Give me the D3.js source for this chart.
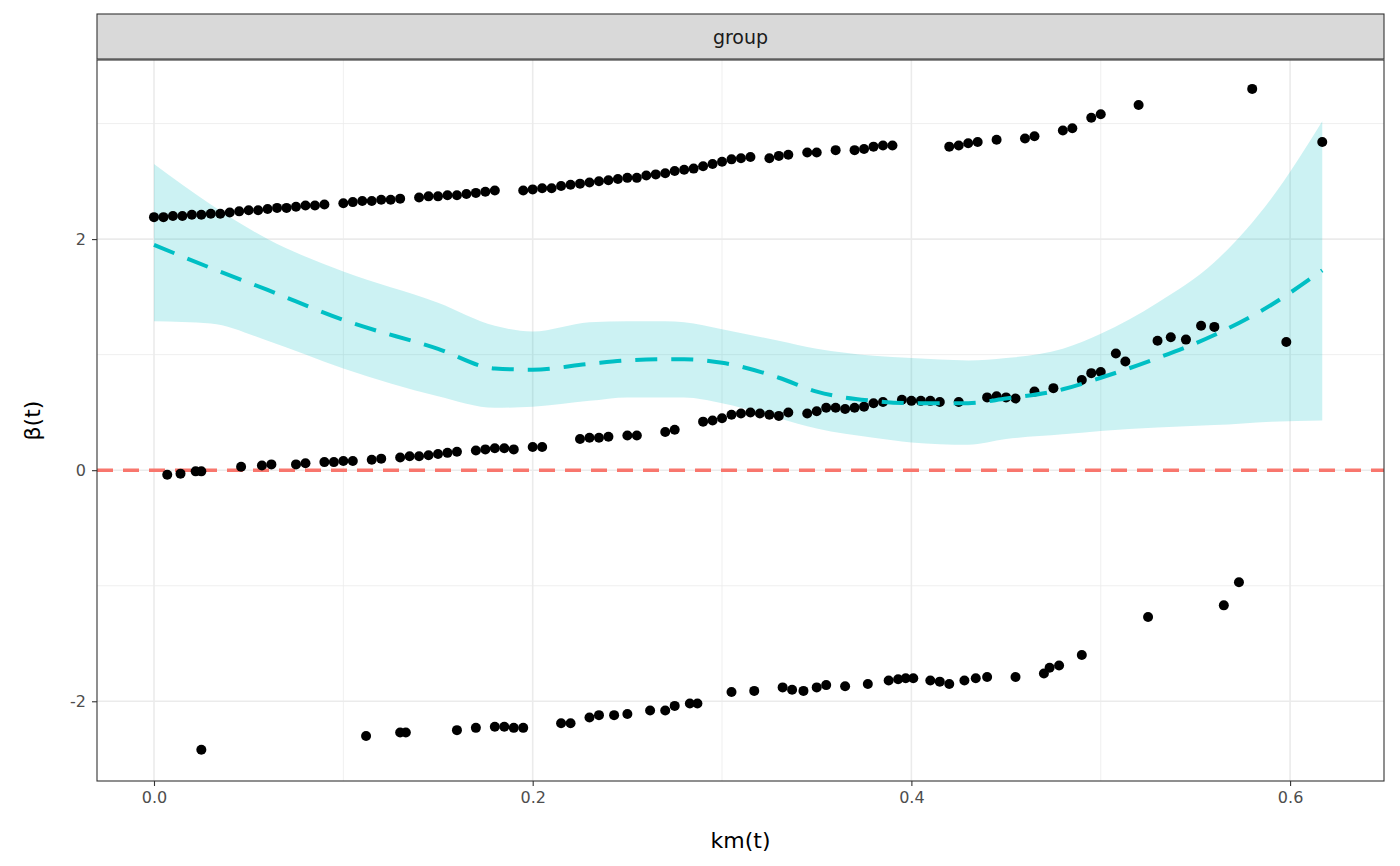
<!DOCTYPE html>
<html><head><meta charset="utf-8">
<script src="https://cdn.jsdelivr.net/npm/d3@7"></script>
<style>body{margin:0;background:#fff;font-family:"DejaVu Sans",sans-serif}</style>
</head><body><svg id="chart" width="1400" height="866"></svg>
<script>
// Residual points, three bands
var upperPts = [[0,2.19],[0.005,2.19],[0.01,2.2],[0.015,2.2],[0.02,2.21],[0.025,2.21],[0.03,2.22],[0.035,2.22],[0.04,2.23],[0.045,2.24],[0.05,2.25],[0.055,2.25],[0.06,2.26],[0.065,2.27],[0.07,2.27],[0.075,2.28],[0.08,2.29],[0.085,2.29],[0.09,2.3],[0.1,2.31],[0.105,2.32],[0.11,2.33],[0.115,2.33],[0.12,2.34],[0.125,2.34],[0.13,2.35],[0.14,2.36],[0.145,2.37],[0.15,2.37],[0.155,2.38],[0.16,2.38],[0.165,2.39],[0.17,2.4],[0.175,2.41],[0.18,2.42],[0.195,2.42],[0.2,2.43],[0.205,2.44],[0.21,2.44],[0.215,2.46],[0.22,2.47],[0.225,2.48],[0.23,2.49],[0.235,2.5],[0.24,2.51],[0.245,2.52],[0.25,2.53],[0.255,2.53],[0.26,2.55],[0.265,2.56],[0.27,2.57],[0.275,2.59],[0.28,2.6],[0.285,2.61],[0.29,2.63],[0.295,2.65],[0.3,2.67],[0.305,2.69],[0.31,2.7],[0.315,2.71],[0.325,2.7],[0.33,2.72],[0.335,2.73],[0.345,2.75],[0.35,2.75],[0.36,2.77],[0.37,2.77],[0.375,2.78],[0.38,2.8],[0.385,2.81],[0.39,2.81],[0.42,2.8],[0.425,2.81],[0.43,2.83],[0.435,2.84],[0.445,2.86],[0.46,2.87],[0.465,2.89],[0.48,2.94],[0.485,2.96],[0.495,3.05],[0.5,3.08],[0.52,3.16],[0.58,3.3],[0.617,2.84]];
var middlePts = [[0.007,-0.04],[0.014,-0.03],[0.022,-0.01],[0.025,-0.01],[0.046,0.03],[0.057,0.04],[0.062,0.05],[0.075,0.05],[0.08,0.06],[0.09,0.07],[0.095,0.07],[0.1,0.08],[0.105,0.08],[0.115,0.09],[0.12,0.1],[0.13,0.11],[0.135,0.12],[0.14,0.12],[0.145,0.13],[0.15,0.14],[0.155,0.15],[0.16,0.16],[0.17,0.17],[0.175,0.18],[0.18,0.19],[0.185,0.19],[0.19,0.18],[0.2,0.2],[0.205,0.2],[0.225,0.27],[0.23,0.28],[0.235,0.28],[0.24,0.29],[0.25,0.3],[0.255,0.3],[0.27,0.33],[0.275,0.35],[0.29,0.42],[0.295,0.43],[0.3,0.45],[0.305,0.48],[0.31,0.49],[0.315,0.5],[0.32,0.49],[0.325,0.48],[0.33,0.47],[0.335,0.5],[0.345,0.49],[0.35,0.51],[0.355,0.54],[0.36,0.54],[0.365,0.53],[0.37,0.54],[0.375,0.55],[0.38,0.58],[0.385,0.59],[0.395,0.61],[0.4,0.6],[0.405,0.6],[0.41,0.6],[0.415,0.59],[0.425,0.59],[0.44,0.63],[0.445,0.64],[0.45,0.63],[0.455,0.62],[0.465,0.68],[0.475,0.71],[0.49,0.78],[0.495,0.84],[0.5,0.85],[0.508,1.01],[0.513,0.94],[0.53,1.12],[0.537,1.15],[0.545,1.13],[0.553,1.25],[0.56,1.24],[0.598,1.11]];
var lowerPts = [[0.025,-2.42],[0.112,-2.3],[0.13,-2.27],[0.133,-2.27],[0.16,-2.25],[0.17,-2.23],[0.18,-2.22],[0.185,-2.22],[0.19,-2.23],[0.195,-2.23],[0.215,-2.19],[0.22,-2.19],[0.23,-2.14],[0.235,-2.12],[0.243,-2.12],[0.25,-2.11],[0.262,-2.08],[0.27,-2.08],[0.275,-2.04],[0.283,-2.02],[0.287,-2.02],[0.305,-1.92],[0.317,-1.91],[0.332,-1.88],[0.337,-1.9],[0.343,-1.91],[0.35,-1.88],[0.355,-1.86],[0.365,-1.87],[0.377,-1.85],[0.388,-1.82],[0.393,-1.81],[0.397,-1.8],[0.401,-1.8],[0.41,-1.82],[0.415,-1.83],[0.42,-1.85],[0.428,-1.82],[0.434,-1.8],[0.44,-1.79],[0.455,-1.79],[0.47,-1.76],[0.473,-1.71],[0.478,-1.69],[0.49,-1.6],[0.525,-1.27],[0.565,-1.17],[0.573,-0.97]];

// Smoothed fit and confidence band
var fitX  = [0,0.03,0.06,0.1,0.15,0.18,0.2,0.23,0.25,0.27,0.28,0.3,0.33,0.35,0.38,0.4,0.43,0.45,0.48,0.5,0.53,0.56,0.59,0.617];
var fitY  = [1.95,1.75,1.56,1.3,1.05,0.88,0.87,0.92,0.95,0.96,0.96,0.93,0.8,0.68,0.6,0.58,0.58,0.62,0.7,0.8,0.97,1.17,1.43,1.73];
var fitHi = [2.65,2.3,2.0,1.72,1.45,1.25,1.2,1.28,1.29,1.29,1.28,1.22,1.12,1.05,0.99,0.97,0.95,0.97,1.05,1.18,1.45,1.8,2.35,3.02];
var fitLo = [1.29,1.27,1.12,0.88,0.64,0.54,0.55,0.6,0.63,0.63,0.63,0.58,0.45,0.36,0.28,0.24,0.22,0.27,0.31,0.34,0.37,0.39,0.42,0.43];

var xTicks = [0, 0.2, 0.4, 0.6], xMinor = [0.1, 0.3, 0.5];
var yTicks = [-2, 0, 2], yMinor = [-1, 1, 3];

var svg = d3.select("#chart");
var L = 97, R = 1384, T = 60, B = 781;
var x = d3.scaleLinear().domain([-0.0301, 0.6496]).range([L, R]);
var y = d3.scaleLinear().domain([-2.69, 3.55]).range([B, T]);

// strip
svg.append("rect").attr("x", L).attr("y", 14).attr("width", R - L).attr("height", 45)
  .attr("fill", "#d9d9d9").attr("stroke", "#333").attr("stroke-width", 1.1);
svg.append("text").attr("x", (L + R) / 2).attr("y", 44).attr("text-anchor", "middle")
  .style("font-size", "19px").attr("fill", "#1a1a1a").text("group");

var g = svg.append("g");
// grid
xMinor.forEach(v => g.append("line").attr("x1", x(v)).attr("x2", x(v)).attr("y1", T).attr("y2", B).attr("stroke", "#ebebeb").attr("stroke-width", 0.8));
yMinor.forEach(v => g.append("line").attr("y1", y(v)).attr("y2", y(v)).attr("x1", L).attr("x2", R).attr("stroke", "#ebebeb").attr("stroke-width", 0.8));
xTicks.forEach(v => g.append("line").attr("x1", x(v)).attr("x2", x(v)).attr("y1", T).attr("y2", B).attr("stroke", "#ebebeb").attr("stroke-width", 1.6));
yTicks.forEach(v => g.append("line").attr("y1", y(v)).attr("y2", y(v)).attr("x1", L).attr("x2", R).attr("stroke", "#ebebeb").attr("stroke-width", 1.6));

// band + fit
var fitData = fitX.map((v, i) => ({x: v, y: fitY[i], hi: fitHi[i], lo: fitLo[i]}));
g.append("path").datum(fitData).attr("fill", "#00BFC4").attr("opacity", 0.2)
  .attr("d", d3.area().curve(d3.curveMonotoneX).x(d => x(d.x)).y0(d => y(d.lo)).y1(d => y(d.hi)));

// zero reference line
g.append("line").attr("x1", L).attr("x2", R).attr("y1", y(0)).attr("y2", y(0))
  .attr("stroke", "#F8766D").attr("stroke-width", 3.6).attr("stroke-dasharray", "16,10");

// points
var allPts = upperPts.concat(middlePts, lowerPts);
g.selectAll("circle").data(allPts).enter().append("circle")
  .attr("cx", d => x(d[0])).attr("cy", d => y(d[1])).attr("r", 5).attr("fill", "#000");

g.append("path").datum(fitData).attr("fill", "none").attr("stroke", "#00BFC4").attr("stroke-width", 4)
  .attr("stroke-dasharray", "22,14")
  .attr("d", d3.line().curve(d3.curveMonotoneX).x(d => x(d.x)).y(d => y(d.y)));

// panel border
svg.append("rect").attr("x", L).attr("y", T).attr("width", R - L).attr("height", B - T)
  .attr("fill", "none").attr("stroke", "#333").attr("stroke-width", 1.1);

// axes
var xa = svg.append("g").attr("transform", `translate(0,${B})`)
  .call(d3.axisBottom(x).tickValues(xTicks).tickFormat(d3.format(".1f")).tickSize(5).tickPadding(6));
var ya = svg.append("g").attr("transform", `translate(${L},0)`)
  .call(d3.axisLeft(y).tickValues(yTicks).tickFormat(d => d < 0 ? "-" + Math.abs(d) : d).tickSize(5).tickPadding(6));
[xa, ya].forEach(a => {
  a.attr("font-size", null);
  a.select(".domain").remove();
  a.selectAll("line").attr("stroke", "#333").attr("stroke-width", 1.1);
  a.selectAll("text").attr("fill", "#4d4d4d").style("font-size", "16px").style("font-family", "DejaVu Sans");
});

svg.append("text").attr("x", (L + R) / 2).attr("y", 848).attr("text-anchor", "middle")
  .style("font-size", "22px").attr("fill", "#000").text("km(t)");
svg.append("text").attr("transform", `translate(40,${(T + B) / 2}) rotate(-90)`).attr("text-anchor", "middle")
  .style("font-size", "22px").attr("fill", "#000").text("β(t)");
</script></body></html>
